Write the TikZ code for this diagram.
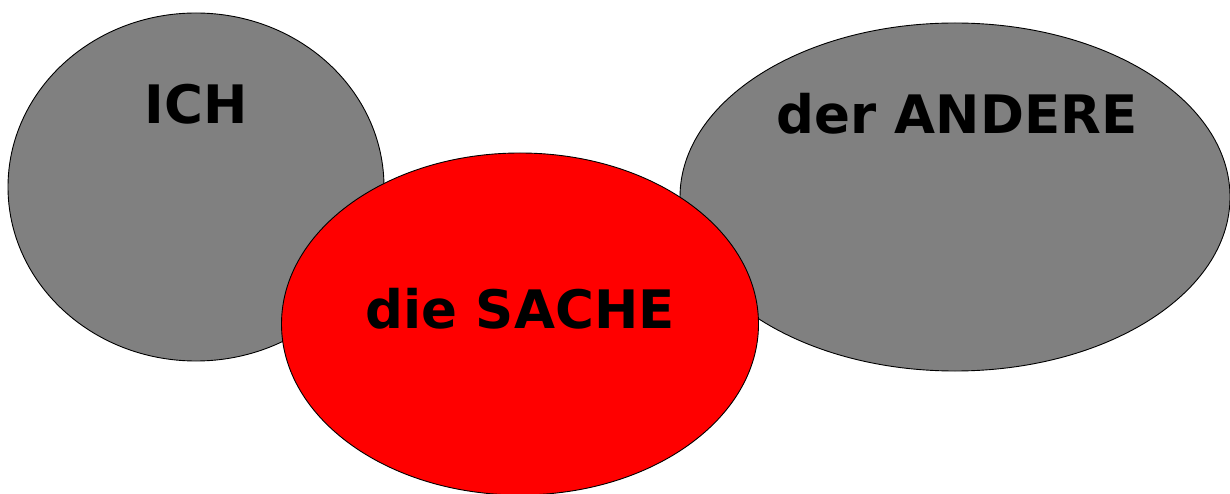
\documentclass[tikz,border=0pt]{standalone}
\usepackage{fontspec}
\setmainfont{DejaVu Sans}
\begin{document}
\begin{tikzpicture}[x=1pt,y=-1pt,
  blob/.style={draw=black,line width=0.9pt},
  lbl/.style={anchor=base,inner sep=0pt,font=\fontsize{53}{60}\selectfont\bfseries}]
\useasboundingbox (0,0) rectangle (1230,494);
\fill[white] (0,0) rectangle (1230,494);
\draw[blob,fill=black!50] (196,187) ellipse [x radius=188,y radius=174];
\draw[blob,fill=black!50] (955,197) ellipse [x radius=275,y radius=174];
\draw[blob,fill=red] (520,324) ellipse [x radius=238.5,y radius=171];
\node[lbl] (ich) at (196,124) {ICH};
\node[lbl] (andere) at (957,134) {der ANDERE};
\node[lbl] (sache) at (520,328) {die SACHE};
\end{tikzpicture}
\end{document}
